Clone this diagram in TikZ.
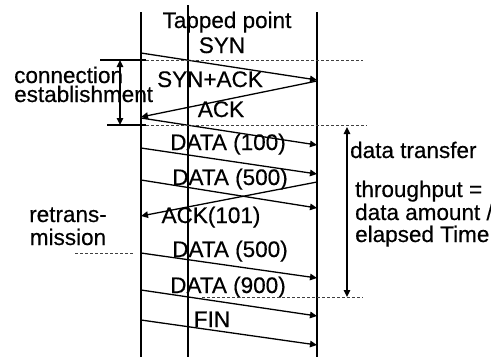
\documentclass[tikz,border=0pt]{standalone}
\usepackage{fontspec}
\setmainfont{Liberation Sans}[FakeBold=0.4]
\usetikzlibrary{arrows.meta}

\begin{document}
\begin{tikzpicture}[x=1pt, y=-1pt,
      every node/.style = {font=\fontsize{22.5}{22.5}\selectfont, inner sep=0pt},
      lbl/.style  = {anchor=base},
      side/.style = {anchor=base west},
      msg/.style  = {-{Triangle[length=7pt,width=6.5pt]}, line width=1.3pt},
      span/.style = {{Triangle[length=7pt,width=6.5pt]}-{Triangle[length=7pt,width=6.5pt]}, line width=1.3pt},
      life/.style = {line width=1.7pt},
      guide/.style = {densely dashed, line width=0.6pt, black!75}
    ]
    \useasboundingbox (0,0) rectangle (491,357);

    % time lines
    \coordinate (Ltop) at (141,12);  \coordinate (Lbot) at (141,357);
    \coordinate (Ttop) at (188,5);   \coordinate (Tbot) at (188,357);
    \coordinate (Rtop) at (317,12);  \coordinate (Rbot) at (317,357);
    \draw[life] (Ltop) -- (Lbot);
    \draw[life] (Ttop) -- (Tbot);
    \draw[life] (Rtop) -- (Rbot);

    \node (tap) [lbl] at (227,28) {Tapped point};

    % message end points
    \coordinate (a1) at (141,53);  \coordinate (b1) at (317,80);
    \coordinate (a2) at (317,81);  \coordinate (b2) at (141,117);
    \coordinate (a3) at (141,118); \coordinate (b3) at (317,145);
    \coordinate (a4) at (141,148); \coordinate (b4) at (317,174);
    \coordinate (a5) at (141,180); \coordinate (b5) at (317,208);
    \coordinate (a6) at (317,182); \coordinate (b6) at (141,216);
    \coordinate (a7) at (141,253); \coordinate (b7) at (317,278);
    \coordinate (a8) at (141,290); \coordinate (b8) at (317,316);
    \coordinate (a9) at (141,320); \coordinate (b9) at (317,345);

    \draw[msg] (a1) -- (b1);
    \draw[msg] (a2) -- (b2);
    \draw[msg] (a3) -- (b3);
    \draw[msg] (a4) -- (b4);
    \draw[msg] (a5) -- (b5);
    \draw[msg] (a6) -- (b6);
    \draw[msg] (a7) -- (b7);
    \draw[msg] (a8) -- (b8);
    \draw[msg] (a9) -- (b9);

    \node (syn)   [lbl] at (222,53)  {SYN};
    \node (synack)[lbl] at (210,87)  {SYN+ACK};
    \node (ack)   [lbl] at (221,117) {ACK};
    \node (d100)  [lbl] at (228,150) {DATA (100)};
    \node (d500)  [lbl] at (230,185) {DATA (500)};
    \node (a101)  [lbl] at (211,223) {ACK(101)};
    \node (d500b) [lbl] at (230,257) {DATA (500)};
    \node (d900)  [lbl] at (228,293) {DATA (900)};
    \node (fin)   [lbl] at (212,327) {FIN};

    % phase borders
    \coordinate (h1w) at (100,60);  \coordinate (h1m) at (146,60);  \coordinate (h1e) at (363,60);
    \coordinate (h2w) at (107,125); \coordinate (h2m) at (146,125); \coordinate (h2e) at (367,125);
    \coordinate (h3w) at (75,253);  \coordinate (h3e) at (133,253);
    \coordinate (h4w) at (202,297); \coordinate (h4e) at (363,297);
    \draw[line width=1.3pt] (h1w) -- (h1m);
    \draw[guide] (h1m) -- (h1e);
    \draw[line width=1.3pt] (h2w) -- (h2m);
    \draw[guide] (h2m) -- (h2e);
    \draw[guide] (h3w) -- (h3e);
    \draw[guide] (h4w) -- (h4e);

    % connection establishment
    \coordinate (ce1) at (120,60);  \coordinate (ce2) at (120,125);
    \draw[span] (ce1) -- (ce2);
    \node (conn) [side] at (14,83)  {connection};
    \node (est)  [side] at (14,102) {establishment};

    % retransmission
    \node (retr) [lbl] at (68,222) {retrans-};
    \node (miss) [lbl] at (68,245) {mission};

    % data transfer
    \coordinate (dt1) at (347,127); \coordinate (dt2) at (347,297);
    \draw[span] (dt1) -- (dt2);
    \node (dtr)  [side] at (350,158) {data transfer};
    \node (thr)  [side] at (355,197) {throughput =};
    \node (amt)  [side] at (355,220) {data amount /};
    \node (ela)  [side] at (355,242) {elapsed Time};
  \end{tikzpicture}
\end{document}
